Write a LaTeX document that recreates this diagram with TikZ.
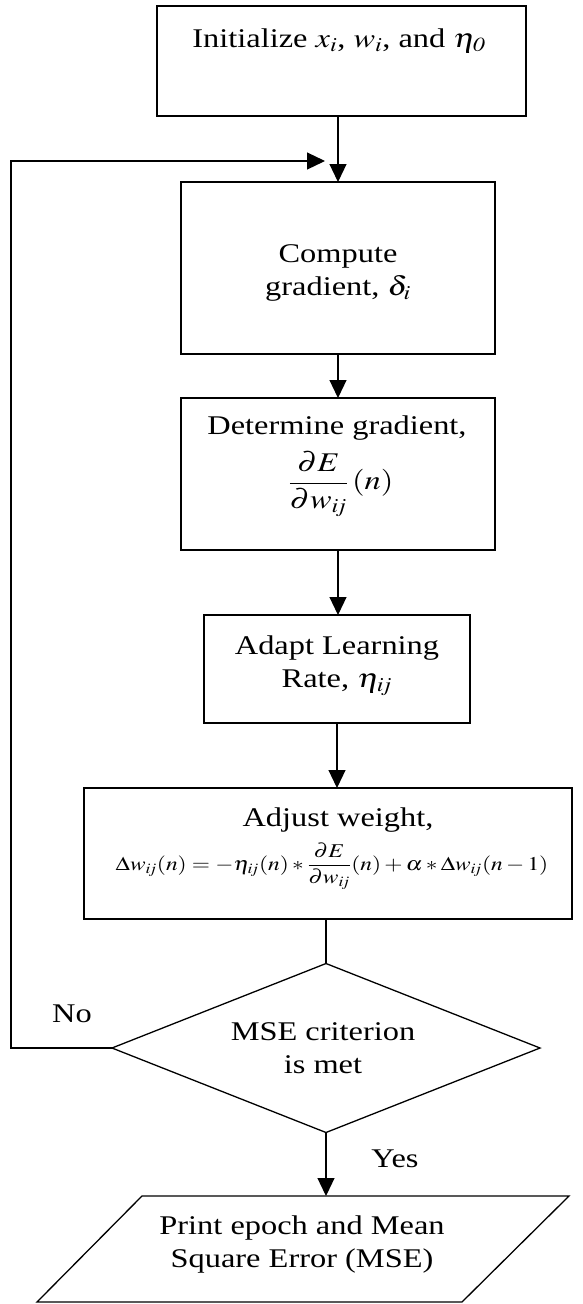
\documentclass[tikz,border=0pt]{standalone}
\usepackage{amsmath}
\usepackage{mathptmx}
\usepackage[no-math]{fontspec}
\setmainfont{Liberation Serif}
\usepackage{graphicx}
\usetikzlibrary{arrows.meta,shapes.geometric}

% widen a line of text horizontally
\newcommand\wtxt[2][1.2]{\scalebox{#1}[1]{#2}}
% tight double index
\newcommand\ixij{{i\mkern-2mu j}}

\begin{document}
\begin{tikzpicture}[x=1pt, y=-1pt,
  every node/.style={inner sep=0pt, outer sep=0pt},
  box/.style={draw, rectangle, line width=1.3pt},
  decision/.style={draw, diamond, line width=1.3pt},
  lbl/.style={font=\fontsize{27}{33}\selectfont, align=center},
  eqn/.style={font=\fontsize{21}{25}\selectfont},
  line/.style={line width=1.2pt},
  arr/.style={line width=1.2pt, -{Triangle[length=18pt,width=17pt]}},
]
\useasboundingbox (0,0) rectangle (582,1304);

% process boxes
\node[box, minimum width=369, minimum height=110] (b1) at (341.5,61) {};
\node[box, minimum width=314, minimum height=172] (b2) at (338,268) {};
\node[box, minimum width=314, minimum height=152] (b3) at (338,474) {};
\node[box, minimum width=266, minimum height=108] (b4) at (337,669) {};
\node[box, minimum width=488, minimum height=131] (b5) at (328,853.5) {};
\node[decision, minimum width=428, minimum height=169] (dia) at (326,1048) {};

% output parallelogram
\coordinate (pTL) at (142,1196);
\coordinate (pTR) at (569,1196);
\coordinate (pBR) at (462,1302);
\coordinate (pBL) at (37,1302);
\draw[line width=1.3pt] (pTL) -- (pTR) -- (pBR) -- (pBL) -- cycle;

% texts
\node[lbl, anchor=base] (t1) at (339,47)
  {\wtxt{Initialize $x_i$, $w_i$, and $\eta_{\mathit{0}}$}};
\node[lbl] (t2) at (338,273)
  {\wtxt{Compute}\\ \wtxt{gradient, $\delta_i$}};
\node[lbl, anchor=base] (t3) at (337,434)
  {\wtxt{Determine gradient,}};
\node[eqn, font=\fontsize{27}{31}\selectfont] (t3b) at (341,484)
  {\wtxt{$\dfrac{\partial E}{\partial w_{\ixij}}\,(n)$}};
\node[lbl] (t4) at (337,665.5)
  {\wtxt{Adapt Learning}\\ \wtxt{Rate, $\eta_{\ixij}$}};
\node[lbl, anchor=base] (t5) at (338,826)
  {\wtxt{Adjust weight,}};
\node[eqn, font=\fontsize{19.5}{23}\selectfont] (t5b) at (332,866)
  {\wtxt{$\Delta w_{\ixij}(n) = -\eta_{\ixij}(n) * \dfrac{\partial E}{\partial w_{\ixij}}(n) + \alpha * \Delta w_{\ixij}(n-1)$}};
\node[lbl] (t6) at (323,1048)
  {\wtxt{MSE criterion}\\ \wtxt{is met}};
\node[lbl] (t7) at (302,1244)
  {\wtxt{Print epoch and Mean}\\ \wtxt{Square Error (MSE)}};
\node[lbl, anchor=base] (no) at (72,1022) {\wtxt{No}};
\node[lbl, anchor=base] (yes) at (395,1167) {\wtxt{Yes}};

% connectors
\coordinate (corner) at (11,161);
\coordinate (tip) at (325,161);
\draw[arr] (b1.south -| b2.north) -- (b2.north);
\draw[arr] (b2.south) -- (b3.north);
\draw[arr] (b3.south) -- (b3.south |- b4.north);
\draw[arr] (b4.south) -- (b4.south |- b5.north);
\draw[line] (b5.south -| dia.north) -- (dia.north);
\draw[arr] (dia.south) -- (dia.south |- pTL);
\draw[arr] (dia.west) -| (corner) -- (tip);
\end{tikzpicture}
\end{document}
